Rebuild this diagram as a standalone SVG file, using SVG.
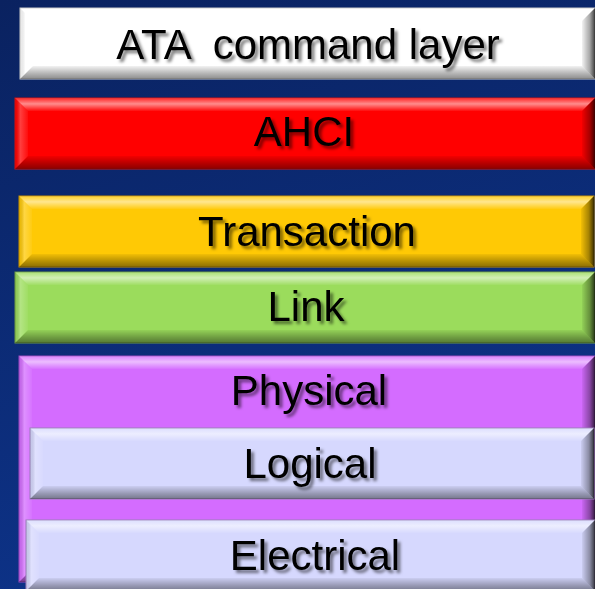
<svg xmlns="http://www.w3.org/2000/svg" width="595" height="589" viewBox="0 0 595 589">
  <defs>
    <linearGradient id="bg" x1="0" y1="0" x2="0.3" y2="1">
      <stop offset="0" stop-color="#0a2260"/>
      <stop offset="1" stop-color="#0d3389"/>
    </linearGradient>
    <!-- bevel shading, shared by every layer box -->
    <linearGradient id="bevTop" x1="0" y1="0" x2="0" y2="1">
      <stop offset="0" stop-color="#fff" stop-opacity="0.15"/>
      <stop offset="0.45" stop-color="#fff" stop-opacity="0.55"/>
      <stop offset="1" stop-color="#fff" stop-opacity="0.05"/>
    </linearGradient>
    <linearGradient id="bevBottom" x1="0" y1="0" x2="0" y2="1">
      <stop offset="0" stop-color="#000" stop-opacity="0.05"/>
      <stop offset="0.6" stop-color="#000" stop-opacity="0.3"/>
      <stop offset="1" stop-color="#000" stop-opacity="0.45"/>
    </linearGradient>
    <linearGradient id="bevLeft" x1="0" y1="0" x2="1" y2="0">
      <stop offset="0" stop-color="#000" stop-opacity="0.06"/>
      <stop offset="0.4" stop-color="#fff" stop-opacity="0.25"/>
      <stop offset="1" stop-color="#fff" stop-opacity="0.05"/>
    </linearGradient>
    <linearGradient id="bevRight" x1="0" y1="0" x2="1" y2="0">
      <stop offset="0" stop-color="#000" stop-opacity="0.05"/>
      <stop offset="0.6" stop-color="#000" stop-opacity="0.35"/>
      <stop offset="1" stop-color="#000" stop-opacity="0.75"/>
    </linearGradient>
    <filter id="txtShadow" x="-10%" y="-30%" width="130%" height="170%">
      <feDropShadow dx="3" dy="3" stdDeviation="1.6" flood-color="#000" flood-opacity="0.5"/>
    </filter>
  </defs>
  <style>
    .t { fill: url(#bevTop); }
    .b { fill: url(#bevBottom); }
    .l { fill: url(#bevLeft); }
    .r { fill: url(#bevRight); }
    .lbl { font-family: "Liberation Sans", Arial, sans-serif; font-size: 42px; fill: #000; text-anchor: middle; filter: url(#txtShadow); }
  </style>

  <rect width="595" height="589" fill="url(#bg)"/>

  <g id="ata">
    <rect x="20" y="8" width="575" height="71" fill="#ffffff" stroke="#c8c8c8" stroke-width="1"/>
    <polygon class="t" points="20,8 595,8 582,21 33,21"/>
    <polygon class="b" points="20,79 595,79 582,66 33,66"/>
    <polygon class="l" points="20,8 33,21 33,66 20,79"/>
    <polygon class="r" points="595,8 582,21 582,66 595,79"/>
    <text class="lbl" x="308" y="59" xml:space="preserve">ATA  command layer</text>
  </g>

  <g id="ahci">
    <rect x="15" y="98" width="580" height="71" fill="#ff0000" stroke="#d81010" stroke-width="1"/>
    <polygon class="t" points="15,98 595,98 582,111 28,111"/>
    <polygon class="b" points="15,169 595,169 582,156 28,156"/>
    <polygon class="l" points="15,98 28,111 28,156 15,169"/>
    <polygon class="r" points="595,98 582,111 582,156 595,169"/>
    <text class="lbl" x="304" y="146">AHCI</text>
  </g>

  <g id="transaction">
    <rect x="19" y="196" width="575" height="71" fill="#ffc905" stroke="#c89000" stroke-width="1"/>
    <polygon class="t" points="19,196 594,196 581,209 32,209"/>
    <polygon class="b" points="19,267 594,267 581,254 32,254"/>
    <polygon class="l" points="19,196 32,209 32,254 19,267"/>
    <polygon class="r" points="594,196 581,209 581,254 594,267"/>
    <text class="lbl" x="307" y="246">Transaction</text>
  </g>

  <g id="link">
    <rect x="15" y="272" width="580" height="71" fill="#9bdc5c" stroke="#6c9a40" stroke-width="1"/>
    <polygon class="t" points="15,272 595,272 582,285 28,285"/>
    <polygon class="b" points="15,343 595,343 582,330 28,330"/>
    <polygon class="l" points="15,272 28,285 28,330 15,343"/>
    <polygon class="r" points="595,272 582,285 582,330 595,343"/>
    <text class="lbl" x="306" y="321">Link</text>
  </g>

  <g id="physical">
    <rect x="19" y="356" width="576" height="226" fill="#d46cff" stroke="#9a48c0" stroke-width="1"/>
    <polygon class="t" points="19,356 595,356 582,369 32,369"/>
    <polygon class="b" points="19,582 595,582 582,569 32,569"/>
    <polygon class="l" points="19,356 32,369 32,569 19,582"/>
    <polygon class="r" points="595,356 582,369 582,569 595,582"/>
    <text class="lbl" x="309" y="405">Physical</text>
  </g>

  <g id="logical">
    <rect x="30" y="428" width="564" height="71" fill="#d6d8fe" stroke="#9a80b8" stroke-width="1"/>
    <polygon class="t" points="30,428 594,428 581,441 43,441"/>
    <polygon class="b" points="30,499 594,499 581,486 43,486"/>
    <polygon class="l" points="30,428 43,441 43,486 30,499"/>
    <polygon class="r" points="594,428 581,441 581,486 594,499"/>
    <text class="lbl" x="310" y="478">Logical</text>
  </g>

  <g id="electrical">
    <rect x="26" y="520" width="569" height="71" fill="#d6d8fe" stroke="#9a80b8" stroke-width="1"/>
    <polygon class="t" points="26,520 595,520 582,533 39,533"/>
    <polygon class="b" points="26,591 595,591 582,578 39,578"/>
    <polygon class="l" points="26,520 39,533 39,578 26,591"/>
    <polygon class="r" points="595,520 582,533 582,578 595,591"/>
    <text class="lbl" x="315" y="570">Electrical</text>
  </g>
</svg>
